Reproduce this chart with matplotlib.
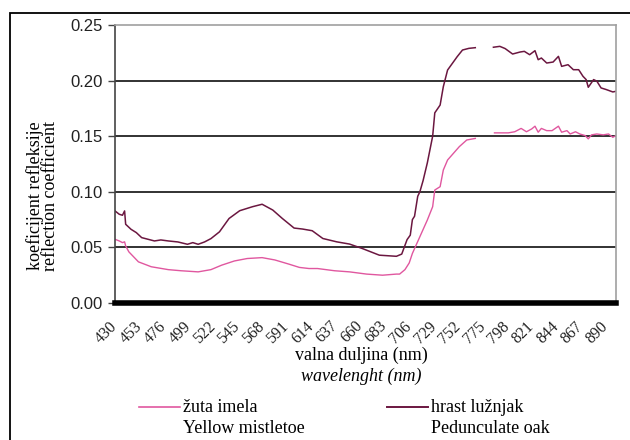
import numpy as np
import matplotlib.pyplot as plt
from matplotlib.patches import Rectangle
from matplotlib.lines import Line2D

plt.rcParams['font.family'] = ['Liberation Serif', 'DejaVu Serif']

# valne duljine (nm) i koeficijent refleksije, hrast lužnjak
wl_oak = [430, 434, 437, 439, 440, 445, 450, 455, 461, 467, 473, 480, 489, 498, 503,
          508, 514, 520, 528, 537, 547, 559, 568, 578, 587, 598, 606, 615, 625, 638,
          650, 662, 678, 694, 699, 704, 707, 709, 711, 714, 716, 719, 723, 728, 730,
          735, 738, 742, 751, 756, 762, 768,
          776,
          785, 791, 796, 803, 810, 814, 819, 824, 827, 830, 835, 841, 846, 849, 855,
          860, 865, 869, 872, 874, 879, 882, 886, 891, 897, 900]
refl_oak = [0.0828, 0.0798, 0.0789, 0.0828, 0.0708, 0.0663, 0.0633, 0.0588, 0.0573,
            0.0558, 0.0567, 0.0558, 0.0549, 0.0528, 0.0543, 0.0528, 0.0549, 0.0579,
            0.064, 0.076, 0.083, 0.0866, 0.0888, 0.0836, 0.076, 0.0674, 0.0665, 0.065,
            0.058, 0.055, 0.053, 0.049, 0.043, 0.042, 0.044, 0.057, 0.061, 0.075, 0.078,
            0.096, 0.100, 0.110, 0.126, 0.150, 0.171, 0.178, 0.1945, 0.2095, 0.2215,
            0.2275, 0.229, 0.2296,
            np.nan,
            0.2300, 0.2308, 0.2288, 0.2239, 0.2257, 0.2263, 0.2233, 0.2269, 0.2188,
            0.2203, 0.2158, 0.2167, 0.2218, 0.2128, 0.2143, 0.2098, 0.2098, 0.2039,
            0.2009, 0.1940, 0.2009, 0.1995, 0.1934, 0.1919, 0.1898, 0.1904]

# žuta imela
wl_mist = [430, 434, 437, 439, 440, 443, 452, 464, 480, 492, 508, 520, 530, 542, 554,
           568, 580, 593, 603, 612, 620, 636, 650, 666, 681, 694, 697, 702, 706, 709,
           716, 723, 728, 730, 735, 738, 742, 753, 760, 768,
           776,
           786, 799, 805, 811, 816, 821, 824, 827, 830, 835, 840, 846, 849, 854, 857,
           862, 866, 871, 874, 877, 882, 888, 893, 897, 900]
refl_mist = [0.0573, 0.0558, 0.0543, 0.055, 0.0513, 0.046, 0.037, 0.0326, 0.030, 0.029,
             0.028, 0.030, 0.034, 0.0378, 0.040, 0.0408, 0.0387, 0.035, 0.032, 0.031,
             0.031, 0.029, 0.028, 0.026, 0.025, 0.026, 0.026, 0.030, 0.036, 0.0446,
             0.0596, 0.0746, 0.0866, 0.1016, 0.1046, 0.1196, 0.1286, 0.1406, 0.1466,
             0.148,
             np.nan,
             0.153, 0.153, 0.154, 0.157, 0.154, 0.1566, 0.159, 0.1536, 0.157, 0.155,
             0.155, 0.159, 0.1536, 0.155, 0.152, 0.154, 0.152, 0.1506, 0.1476, 0.1512,
             0.152, 0.1512, 0.152, 0.149, 0.1506]

xticks = list(range(430, 891, 23))
yticks = [0.00, 0.05, 0.10, 0.15, 0.20, 0.25]

pink = '#e0579f'
maroon = '#6b1740'

fig = plt.figure(figsize=(6.3, 4.4), dpi=100)
ax = fig.add_axes([115 / 630, 1 - 303 / 440, 501 / 630, 278 / 440])

ax.plot(wl_mist, refl_mist, color=pink, lw=1.0)
ax.plot(wl_oak, refl_oak, color=maroon, lw=1.1)

ax.set_xlim(430, 900)
ax.set_ylim(0, 0.25)
ax.set_yticks(yticks)
ax.set_yticklabels([f'{v:.2f}' for v in yticks], family='Liberation Sans', fontsize=12,
                   color='#222222')
ax.set_xticks(xticks)
ax.set_xticklabels([str(t) for t in xticks], rotation=45, ha='right', va='center',
                   rotation_mode='anchor', fontsize=11.5, color='#222222')
ax.tick_params(axis='x', length=0, pad=15)
ax.tick_params(axis='y', length=5, width=1, color='#444444', pad=4)

for v in yticks[1:-1]:
    ax.axhline(v, color='#222222', lw=1.3, zorder=0.5)

ax.spines['bottom'].set_linewidth(4)
ax.spines['bottom'].set_color('black')
ax.spines['left'].set_color('#444444')
ax.spines['left'].set_linewidth(1.2)
for s in ('top', 'right'):
    ax.spines[s].set_color('#a0a0a0')
    ax.spines[s].set_linewidth(1.2)

fig.text(35 / 630, 1 - 196 / 440, 'koeficijent refleksije', rotation=90,
         ha='center', va='center', fontsize=13)
fig.text(51 / 630, 1 - 196 / 440, 'reflection coefficient', rotation=90,
         ha='center', va='center', fontsize=13)
fig.text(361 / 630, 1 - 355 / 440, 'valna duljina (nm)', ha='center', va='center',
         fontsize=13)
fig.text(361 / 630, 1 - 376 / 440, 'wavelenght (nm)', ha='center', va='center',
         fontsize=13, style='italic')

# legenda
fig.add_artist(Line2D([139 / 630, 180 / 630], [1 - 407 / 440] * 2, color=pink, lw=1.2))
fig.text(183 / 630, 1 - 407 / 440, 'žuta imela', ha='left', va='center', fontsize=13)
fig.text(183 / 630, 1 - 428 / 440, 'Yellow mistletoe', ha='left', va='center', fontsize=13)
fig.add_artist(Line2D([387 / 630, 428 / 630], [1 - 407 / 440] * 2, color=maroon, lw=1.4))
fig.text(431 / 630, 1 - 407 / 440, 'hrast lužnjak', ha='left', va='center', fontsize=13)
fig.text(431 / 630, 1 - 428 / 440, 'Pedunculate oak', ha='left', va='center', fontsize=13)

# okvir oko grafikona
fig.add_artist(Rectangle((10 / 630, -0.1), 1.0, 1.1 - 13 / 440, transform=fig.transFigure,
                         fill=False, edgecolor='black', lw=1.3))

fig.savefig('out.png', dpi=100)
